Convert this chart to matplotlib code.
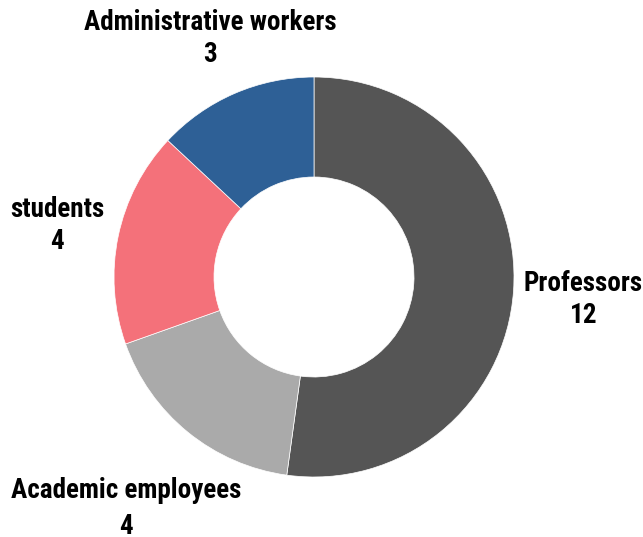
import matplotlib.pyplot as plt
import numpy as np

labels = ['Professors', 'Academic employees', 'students', 'Administrative workers']
values = [12, 4, 4, 3]
colors = ['#555555', '#aaaaaa', '#f4717a', '#2e6096']
# radial distance of each label (in radius units)
label_dist = [1.35, 1.49, 1.31, 1.30]

plt.rcParams['font.family'] = ['Roboto Condensed', 'DejaVu Sans']

fig = plt.figure(figsize=(6.43, 5.37), dpi=100)
ax = fig.add_axes([0, 0, 1, 1])

wedges, _ = ax.pie(values, colors=colors, startangle=90, counterclock=False,
                   radius=1.0, wedgeprops=dict(width=0.5, edgecolor='white', linewidth=0.5))

for w, name, val, d in zip(wedges, labels, values, label_dist):
    ang = np.deg2rad((w.theta1 + w.theta2) / 2)
    x, y = d * np.cos(ang), d * np.sin(ang)
    if name == 'students':
        y -= 0.01
    elif name == 'Professors':
        y -= 0.02
    gap = 0.09 if name == 'Academic employees' else 0.08
    ax.text(x, y + gap, name, ha='center', va='center', fontsize=19.5, fontweight='bold')
    ax.text(x, y - gap, str(val), ha='center', va='center', fontsize=19.5, fontweight='bold')

ax.set_xlim(-314 / 200, (643 - 314) / 200)
ax.set_ylim(-260 / 200, 277 / 200)
ax.set_aspect('equal')
ax.axis('off')

plt.savefig('out.png', dpi=100)
